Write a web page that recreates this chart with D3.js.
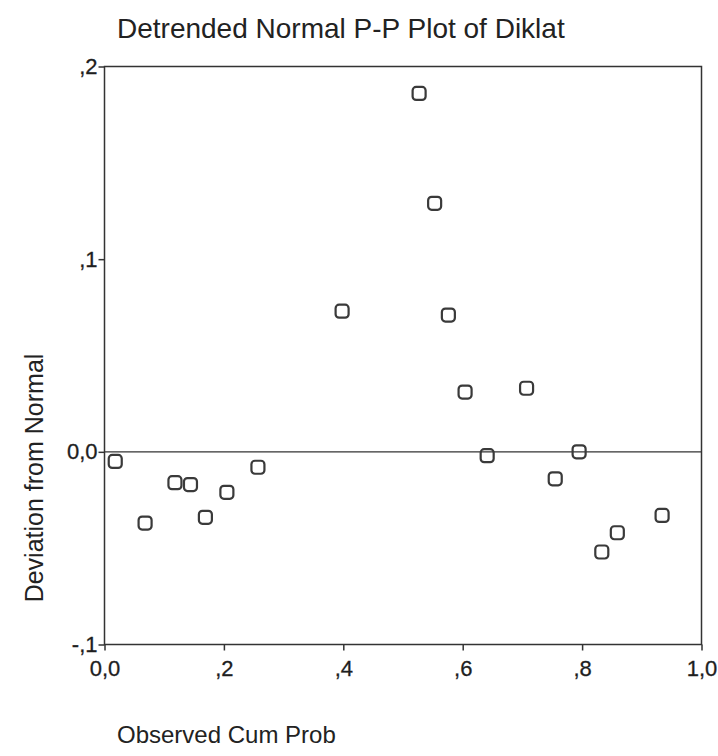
<!DOCTYPE html>
<html>
<head>
<meta charset="utf-8">
<script src="https://cdn.jsdelivr.net/npm/d3@7"></script>
<style>
  html, body { margin: 0; padding: 0; background: #fff; }
  svg { display: block; font-family: "Liberation Sans", Arial, sans-serif; }
</style>
</head>
<body>
<svg id="chart" width="718" height="756"></svg>
<script>
// Observed cumulative probability and deviation from normal for each case
const observedCumProb = [0.018, 0.068, 0.118, 0.144, 0.169, 0.205, 0.257, 0.398, 0.527, 0.553, 0.576, 0.604, 0.641, 0.707, 0.755, 0.795, 0.833, 0.859, 0.934];
const deviation = [-0.005, -0.037, -0.016, -0.017, -0.034, -0.021, -0.008, 0.073, 0.186, 0.129, 0.071, 0.031, -0.002, 0.033, -0.014, 0.000, -0.052, -0.042, -0.033];

const xTicks = [0, 0.2, 0.4, 0.6, 0.8, 1.0];
const xTickLabels = ["0,0", ",2", ",4", ",6", ",8", "1,0"];
const yTicks = [-0.1, 0, 0.1, 0.2];
const yTickLabels = ["-,1", "0,0", ",1", ",2"];

const titleText = "Detrended Normal P-P Plot of Diklat";
const xTitle = "Observed Cum Prob";
const yTitle = "Deviation from Normal";

const svg = d3.select("#chart");
const ink = "#333";

const x = d3.scaleLinear().domain([0, 1]).range([104.5, 701.5]);
const y = d3.scaleLinear().domain([-0.1, 0.2]).range([644.5, 66.5]);

// frame
svg.append("rect")
  .attr("x", x(0)).attr("y", y(0.2))
  .attr("width", x(1) - x(0)).attr("height", y(-0.1) - y(0.2))
  .attr("fill", "none").attr("stroke", ink).attr("stroke-width", 1.5);

// axes
const xAxis = d3.axisBottom(x).tickValues(xTicks)
  .tickFormat((d, i) => xTickLabels[i]).tickSizeOuter(0).tickSizeInner(6).tickPadding(10);
const gx = svg.append("g").attr("transform", `translate(0,${y(-0.1)})`).call(xAxis);

const yAxis = d3.axisLeft(y).tickValues(yTicks)
  .tickFormat((d, i) => yTickLabels[i]).tickSizeOuter(0).tickSizeInner(6).tickPadding(1);
const gy = svg.append("g").attr("transform", `translate(${x(0)},0)`).call(yAxis);

[gx, gy].forEach(g => {
  g.attr("font-size", null).attr("font-family", null);
  g.select(".domain").remove();
  g.selectAll(".tick line").attr("stroke", ink).attr("stroke-width", 1.5);
  g.selectAll(".tick text").attr("fill", "#1e1e1e")
    .attr("stroke", "#1e1e1e").attr("stroke-width", 0.3)
    .style("font-size", "22px").style("font-family", '"Liberation Sans", Arial, sans-serif');
});

// zero reference line
svg.append("line")
  .attr("x1", x(0)).attr("x2", x(1))
  .attr("y1", y(0)).attr("y2", y(0))
  .attr("stroke", ink).attr("stroke-width", 1.3);

// points as rounded square markers
const s = 13;
svg.append("g").selectAll("rect")
  .data(observedCumProb.map((v, i) => [v, deviation[i]]))
  .join("rect")
  .attr("x", d => x(d[0]) - s / 2)
  .attr("y", d => y(d[1]) - s / 2)
  .attr("width", s).attr("height", s)
  .attr("rx", 3.5).attr("ry", 3.5)
  .attr("fill", "none").attr("stroke", "#3a3a3a").attr("stroke-width", 2.2);

// titles
svg.append("text").attr("x", 117).attr("y", 38)
  .attr("fill", "#222").style("font-size", "28px").text(titleText);

svg.append("text").attr("x", 117).attr("y", 743)
  .attr("fill", "#222").style("font-size", "24px").text(xTitle);

svg.append("text")
  .attr("transform", `translate(43,${478}) rotate(-90)`)
  .attr("text-anchor", "middle")
  .attr("fill", "#222").style("font-size", "25px").text(yTitle);
</script>
</body>
</html>
